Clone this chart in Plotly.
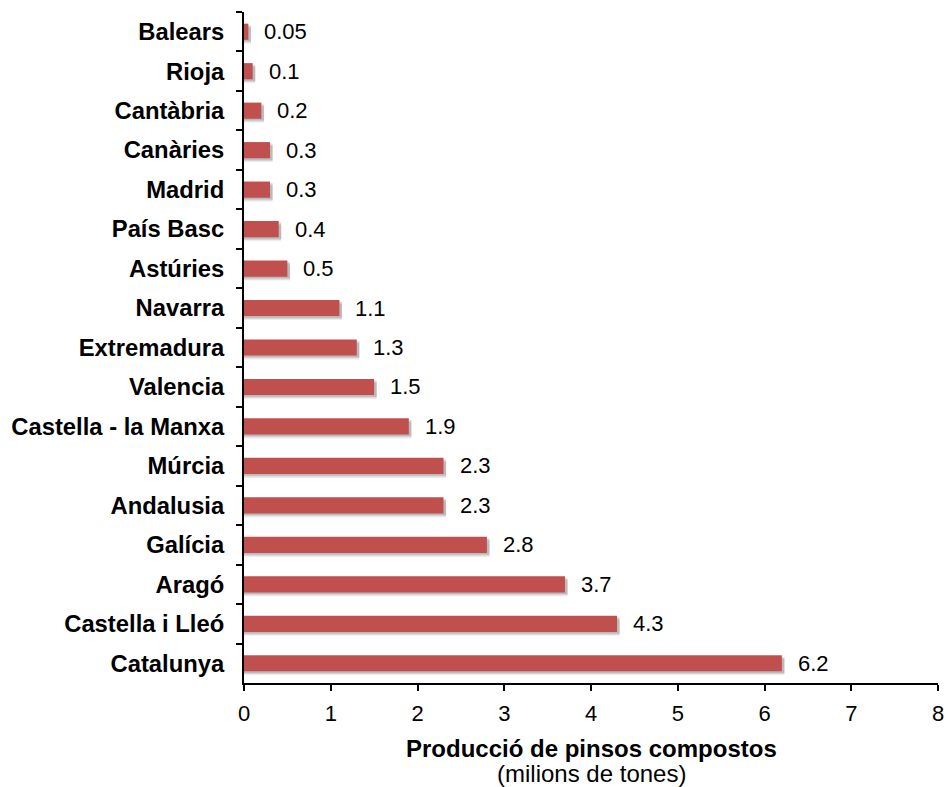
import plotly.graph_objects as go

# Production of compound feed by region (million tonnes), listed top to bottom
regions = ["Balears", "Rioja", "Cantàbria", "Canàries", "Madrid", "País Basc",
           "Astúries", "Navarra", "Extremadura", "Valencia", "Castella - la Manxa",
           "Múrcia", "Andalusia", "Galícia", "Aragó", "Castella i Lleó", "Catalunya"]
values = [0.05, 0.1, 0.2, 0.3, 0.3, 0.4, 0.5, 1.1, 1.3, 1.5, 1.9,
          2.3, 2.3, 2.8, 3.7, 4.3, 6.2]
x_ticks = [0, 1, 2, 3, 4, 5, 6, 7, 8]

FONT = "Arial, Liberation Sans, sans-serif"
BAR_COLOR = "#C0504D"
BAR_W = 0.41

fig = go.Figure()

# soft drop shadow under each bar
for shift, alpha in [(0.10, 0.07), (0.07, 0.10), (0.04, 0.12)]:
    fig.add_trace(go.Bar(
        y=regions, x=[v + 0.03 for v in values], orientation="h",
        width=BAR_W, offset=-BAR_W / 2 + shift,
        marker=dict(color=f"rgba(0,0,0,{alpha})", line=dict(width=0)),
        hoverinfo="skip", showlegend=False,
    ))

fig.add_trace(go.Bar(
    y=regions, x=values, orientation="h",
    width=BAR_W, offset=-BAR_W / 2,
    marker=dict(color=BAR_COLOR, line=dict(width=0)),
    showlegend=False,
))

# value labels to the right of each bar
for r, v in zip(regions, values):
    fig.add_annotation(x=v, y=r, text=f"{v:g}", showarrow=False,
                       xanchor="left", xshift=14,
                       font=dict(family=FONT, size=22, color="#000"))

# two-line axis title: bold caption plus unit line
fig.add_annotation(x=0.5, y=0, xref="paper", yref="paper", yshift=-65,
                   text="<b>Producció de pinsos compostos</b>", showarrow=False,
                   yanchor="middle", font=dict(family=FONT, size=24, color="#000"))
fig.add_annotation(x=0.5, y=0, xref="paper", yref="paper", yshift=-90,
                   text="(milions de tones)", showarrow=False,
                   yanchor="middle", font=dict(family=FONT, size=24, color="#000"))

fig.update_layout(
    width=948, height=787,
    margin=dict(l=244, r=10, t=12, b=104),
    paper_bgcolor="white", plot_bgcolor="white",
    barmode="overlay",
    font=dict(family=FONT, color="#000"),
    xaxis=dict(
        range=[0, 8], tickvals=x_ticks, showgrid=False, zeroline=False,
        automargin=False,
        showline=True, linecolor="#000", linewidth=2,
        ticks="outside", ticklen=6, tickwidth=2, tickcolor="#000",
        tickfont=dict(size=22, family=FONT), ticklabelstandoff=4,
    ),
    yaxis=dict(
        categoryorder="array", categoryarray=regions, autorange="reversed",
        showgrid=False, zeroline=False, automargin=False,
        showline=True, linecolor="#000", linewidth=2,
        ticks="outside", ticklen=6, tickwidth=2, tickcolor="#000",
        tickson="boundaries", ticklabelstandoff=13,
        tickfont=dict(size=23.8, family=FONT, weight="bold"),
    ),
)

fig.write_html("out.html")
